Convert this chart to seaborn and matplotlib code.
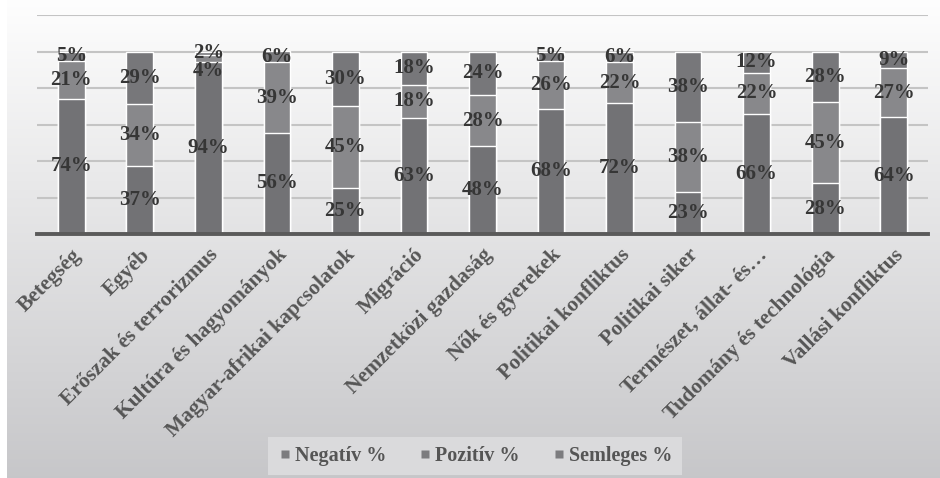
import numpy as np
import pandas as pd
import matplotlib
matplotlib.use("Agg")
import matplotlib.pyplot as plt
from matplotlib.lines import Line2D
import seaborn as sns

categories = [
    "Betegség", "Egyéb", "Erőszak és terrorizmus", "Kultúra és hagyományok",
    "Magyar-afrikai kapcsolatok", "Migráció", "Nemzetközi gazdaság",
    "Nők és gyerekek", "Politikai konfliktus", "Politikai siker",
    "Természet, állat- és…", "Tudomány és technológia", "Vallási konfliktus",
]
negativ = [74, 37, 94, 56, 25, 63, 48, 68, 72, 23, 66, 28, 64]
pozitiv = [21, 34, 4, 39, 45, 18, 28, 26, 22, 38, 22, 45, 27]
semleges = [5, 29, 2, 6, 30, 18, 24, 5, 6, 38, 12, 28, 9]
series_names = ["Negatív %", "Pozitív %", "Semleges %"]
series_colors = ["#727275", "#88888b", "#77777a"]

sns.set_theme(style="white")
plt.rcParams["font.family"] = ["Liberation Serif", "DejaVu Serif"]
plt.rcParams["font.weight"] = "bold"

# 100% stacked: each bar's shares are scaled to sum to 100
df = pd.DataFrame({"kategoria": categories, "neg": negativ,
                   "poz": pozitiv, "sem": semleges})
tot = df[["neg", "poz", "sem"]].sum(axis=1)
for c in ["neg", "poz", "sem"]:
    df[c + "_s"] = df[c] / tot * 100
df["c1"] = df["neg_s"]
df["c2"] = df["neg_s"] + df["poz_s"]
df["c3"] = df["c2"] + df["sem_s"]

fig = plt.figure(figsize=(9.4, 4.78), dpi=100, facecolor="white")

# vertical gradient panel behind the chart
bg = fig.add_axes([7 / 940, 0, 933 / 940, 1], zorder=-10)
grad = np.linspace(0, 1, 256).reshape(-1, 1)
top_c = np.array([0.995, 0.995, 0.995])
bot_c = np.array([0.78, 0.78, 0.79])
img = top_c * (1 - grad[..., None]) + bot_c * grad[..., None]
bg.imshow(img, aspect="auto", extent=[0, 1, 0, 1], origin="upper")
bg.set_axis_off()

ax = fig.add_axes([37 / 940, 1 - 234 / 478, 891 / 940, 219 / 478])
ax.set_facecolor("none")

# stacked bars: draw cumulative totals from tallest to shortest
for col, color in zip(["c3", "c2", "c1"], series_colors[::-1]):
    sns.barplot(data=df, x="kategoria", y=col, color=color, width=0.39,
                edgecolor="white", linewidth=1.0, saturation=1, ax=ax,
                zorder=3)

ax.set_ylim(0, 120)
ax.set_xlim(-0.5, len(categories) - 0.5)
ax.set_yticks(np.arange(0, 121, 20))
ax.yaxis.grid(True, color="#c4c4c4", linewidth=1.5, zorder=0)
ax.set_axisbelow(True)
ax.tick_params(axis="y", left=False, labelleft=False)
ax.set_xlabel("")
ax.set_ylabel("")
for s in ["top", "right", "left"]:
    ax.spines[s].set_visible(False)
ax.spines["bottom"].set_color("#5a5a5a")
ax.spines["bottom"].set_linewidth(2.8)
ax.spines["bottom"].set_zorder(5)

ax.set_xticks(range(len(categories)))
ax.set_xticklabels(categories, rotation=45, ha="right",
                   rotation_mode="anchor", fontsize=15.5,
                   fontweight="bold", color="#565656")
ax.tick_params(axis="x", length=0, pad=8)

# value labels centred in each segment
nudge = {(2, 1): -9}
for i in range(len(categories)):
    lows = [0, df["c1"][i], df["c2"][i]]
    highs = [df["c1"][i], df["c2"][i], df["c3"][i]]
    vals = [negativ[i], pozitiv[i], semleges[i]]
    for j, (lo, hi, v) in enumerate(zip(lows, highs, vals)):
        ax.annotate(f"{v}%", (i, (lo + hi) / 2),
                    xytext=(0, nudge.get((i, j), 0)),
                    textcoords="offset points", ha="center", va="center",
                    fontsize=15, fontweight="bold", color="#363636",
                    zorder=6)

handles = [Line2D([], [], marker="s", linestyle="none", markersize=6,
                  markerfacecolor="#7c7c7f", markeredgecolor="none")
           for _ in series_names]
leg = fig.legend(handles, series_names, loc="center",
                 bbox_to_anchor=(475 / 940, 1 - 456 / 478), ncol=3,
                 frameon=True, fancybox=False, handletextpad=0.15,
                 columnspacing=1.6, handlelength=0.7, borderpad=0.45,
                 prop={"family": "Liberation Serif", "weight": "bold",
                       "size": 14.5})
leg.get_frame().set_facecolor("#dadadc")
leg.get_frame().set_edgecolor("none")
leg.get_frame().set_alpha(1)
for t in leg.get_texts():
    t.set_color("#555555")

fig.savefig("out.png", dpi=100, facecolor="white")
